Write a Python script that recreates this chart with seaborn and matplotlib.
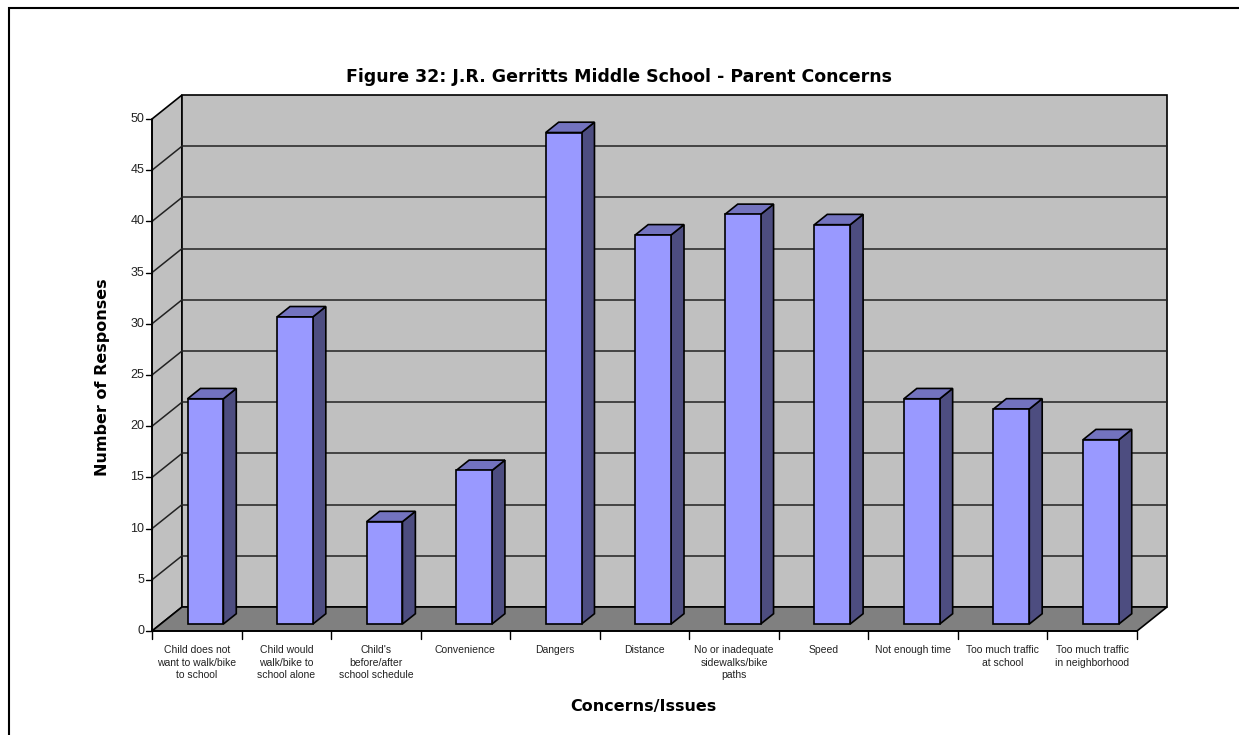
import matplotlib
matplotlib.use("Agg")
import matplotlib.pyplot as plt
import matplotlib.transforms as mtransforms
from matplotlib.patches import Polygon, Rectangle
import seaborn as sns
import pandas as pd

# Survey results
categories = [
    "Child does not\nwant to walk/bike\nto school",
    "Child would\nwalk/bike to\nschool alone",
    "Child's\nbefore/after\nschool schedule",
    "Convenience",
    "Dangers",
    "Distance",
    "No or inadequate\nsidewalks/bike\npaths",
    "Speed",
    "Not enough time",
    "Too much traffic\nat school",
    "Too much traffic\nin neighborhood",
]
responses = [22, 30, 10, 15, 48, 38, 40, 39, 22, 21, 18]
y_ticks = list(range(0, 55, 5))

title = "Figure 32: J.R. Gerritts Middle School - Parent Concerns"
x_title = "Concerns/Issues"
y_title = "Number of Responses"

FRONT = "#9999FF"
SIDE = "#4D4D80"
TOP = "#7373BF"
WALL = "#C0C0C0"
FLOOR = "#808080"

sns.set_style("white")
plt.rcParams["font.family"] = ["DejaVu Sans"]
plt.rcParams["text.color"] = "black"

W, H = 1239, 735
fig = plt.figure(figsize=(W / 100, H / 100), dpi=100)
# front plane of the 3-D box
left_px, right_px, zero_px, top_px = 152, 1137, 631, 119
ax = fig.add_axes([left_px / W, (H - zero_px) / H,
                   (right_px - left_px) / W, (zero_px - top_px) / H])
n = len(categories)
ymax = 50
ax.set_xlim(-0.5, n - 0.5)
ax.set_ylim(0, ymax)
ax.axis("off")

# depth vector of the box in data units (30 px right, 24 px up)
px_per_x = (right_px - left_px) / n
px_per_y = (zero_px - top_px) / ymax
DX = 30 / px_per_x
DY = 24 / px_per_y


def P(x, y, d):
    return (x + d * DX, y + d * DY)


x0, x1 = -0.5, n - 0.5
# left side wall, back wall, floor
ax.add_patch(Polygon([P(x0, 0, 0), P(x0, ymax, 0), P(x0, ymax, 1), P(x0, 0, 1)],
                     closed=True, fc=WALL, ec="black", lw=1.2, clip_on=False, zorder=1))
ax.add_patch(Polygon([P(x0, 0, 1), P(x1, 0, 1), P(x1, ymax, 1), P(x0, ymax, 1)],
                     closed=True, fc=WALL, ec="black", lw=1.2, clip_on=False, zorder=1))
ax.add_patch(Polygon([P(x0, 0, 0), P(x1, 0, 0), P(x1, 0, 1), P(x0, 0, 1)],
                     closed=True, fc=FLOOR, ec="black", lw=1.2, clip_on=False, zorder=1))
# gridlines on back and side walls
for v in y_ticks[1:-1]:
    a, b = P(x0, v, 1), P(x1, v, 1)
    ax.plot([a[0], b[0]], [a[1], b[1]], color="#222222", lw=1.1, zorder=1.5, clip_on=False)
    a, b = P(x0, v, 0), P(x0, v, 1)
    ax.plot([a[0], b[0]], [a[1], b[1]], color="#222222", lw=1.1, zorder=1.5, clip_on=False)

# front faces of the columns
df = pd.DataFrame({"cat": range(n), "val": responses})
d_front, d_back = 0.29, 0.72
sns.barplot(data=df, x="cat", y="val", order=range(n), color=FRONT, saturation=1,
            width=0.4, edgecolor="black", linewidth=1.2, ax=ax, zorder=3)
ax.set_xlim(-0.5, n - 0.5)
ax.set_ylim(0, ymax)
shift = mtransforms.Affine2D().translate(d_front * DX, d_front * DY) + ax.transData
dd = d_back - d_front
for bar in ax.patches[3:]:
    bx, bw, bh = bar.get_x(), bar.get_width(), bar.get_height()
    bar.set_transform(shift)
    bar.set_clip_on(False)
    side = [(bx + bw, 0), (bx + bw, bh), (bx + bw + dd * DX, bh + dd * DY), (bx + bw + dd * DX, dd * DY)]
    topf = [(bx, bh), (bx + bw, bh), (bx + bw + dd * DX, bh + dd * DY), (bx + dd * DX, bh + dd * DY)]
    for pts, c in ((side, SIDE), (topf, TOP)):
        ax.add_patch(Polygon(pts, closed=True, fc=c, ec="black", lw=1.2,
                             transform=shift, clip_on=False, zorder=2.5))

# y axis on the front edge
ax.plot([x0, x0], [0, ymax], color="black", lw=1.2, zorder=4, clip_on=False)
for v in y_ticks:
    ax.plot([x0 - 0.065, x0], [v, v], color="black", lw=1.0, clip_on=False, zorder=4)
    ax.text(x0 - 0.085, v, str(v), ha="right", va="center", fontsize=9,
            family=["Liberation Sans", "DejaVu Sans"], color="#222222")
# x axis ticks on the front edge of the floor
ax.plot([x0, x1], [0, 0], color="black", lw=1.2, zorder=4, clip_on=False)
for i in range(n + 1):
    ax.plot([x0 + i, x0 + i], [0, -0.8], color="black", lw=1.0, clip_on=False, zorder=4)
for i, lab in enumerate(categories):
    ax.text(i, -1.35, lab, ha="center", va="top", fontsize=7.5, linespacing=1.35,
            family=["Liberation Sans", "DejaVu Sans"], color="#222222")

fig.text(619 / W, 1 - 77 / H, title, ha="center", va="center", fontsize=12.5,
         fontweight="bold", color="black")
fig.text(643 / W, 1 - 706 / H, x_title, ha="center", va="center", fontsize=11.5,
         fontweight="bold", color="black")
fig.text(102 / W, 1 - 377 / H, y_title, ha="center", va="center", rotation=90,
         fontsize=11.5, fontweight="bold", color="black")

# chart frame
fig.add_artist(Rectangle((9 / W, -0.05), 1.1, 1 - 8 / H + 0.05, transform=fig.transFigure,
                         fill=False, ec="black", lw=1.5))

fig.savefig("out.png", dpi=100)
